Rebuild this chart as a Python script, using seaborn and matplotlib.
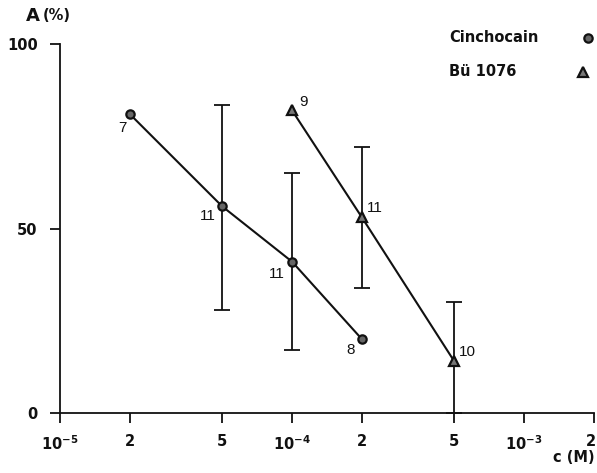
import numpy as np
import pandas as pd
import matplotlib
matplotlib.use("Agg")
import matplotlib.pyplot as plt
import matplotlib.transforms as mtransforms
from matplotlib.lines import Line2D
import seaborn as sns

# Concentration (M) vs. effect A (%), with number of experiments per point
conc_cinchocain = [2e-5, 5e-5, 1e-4, 2e-4]
effect_cinchocain = [81, 56, 41, 20]
n_cinchocain = [7, 11, 11, 8]
low_cinchocain = [np.nan, 28, 17, np.nan]
high_cinchocain = [np.nan, 83.5, 65, np.nan]

conc_bu = [1e-4, 2e-4, 5e-4]
effect_bu = [82, 53, 14]
n_bu = [9, 11, 10]
low_bu = [np.nan, 34, 0]
high_bu = [np.nan, 72, 30]

series_names = ["Cinchocain", "Bü 1076"]
xtick_values = [1e-5, 2e-5, 5e-5, 1e-4, 2e-4, 5e-4, 1e-3, 2e-3]
xtick_labels = [r"10$^{-5}$", "2", "5", r"10$^{-4}$", "2", "5", r"10$^{-3}$", "2"]
ytick_values = [0, 50, 100]

sns.set_style("ticks")
plt.rcParams["font.family"] = ["DejaVu Sans"]
plt.rcParams["mathtext.fontset"] = "custom"
plt.rcParams["mathtext.rm"] = "DejaVu Sans:bold"
plt.rcParams["mathtext.it"] = "DejaVu Sans:bold"
plt.rcParams["mathtext.default"] = "rm"

fig = plt.figure(figsize=(5.97, 4.73), dpi=100)
ax = fig.add_axes([60 / 597, 60 / 473, 534 / 597, 369 / 473])

df_c = pd.DataFrame({"c": conc_cinchocain, "A": effect_cinchocain})
df_b = pd.DataFrame({"c": conc_bu, "A": effect_bu})

ink = "#111111"
sns.lineplot(data=df_c, x="c", y="A", ax=ax, color=ink, lw=1.5,
             marker="o", markersize=6, markerfacecolor="#666666",
             markeredgecolor=ink, markeredgewidth=1.6, clip_on=False, zorder=4)
sns.lineplot(data=df_b, x="c", y="A", ax=ax, color=ink, lw=1.5,
             marker="^", markersize=7, markerfacecolor="#777777",
             markeredgecolor=ink, markeredgewidth=1.6, clip_on=False, zorder=4)


def draw_errors(conc, mean, low, high):
    conc = np.array(conc)
    mean = np.array(mean, float)
    low = np.array(low, float)
    high = np.array(high, float)
    ok = ~np.isnan(low)
    ax.errorbar(conc[ok], mean[ok], yerr=[mean[ok] - low[ok], high[ok] - mean[ok]],
                fmt="none", ecolor=ink, elinewidth=1.3, capsize=5.5,
                capthick=1.3, clip_on=False, zorder=3)


draw_errors(conc_cinchocain, effect_cinchocain, low_cinchocain, high_cinchocain)
draw_errors(conc_bu, effect_bu, low_bu, high_bu)

# sample sizes beside each point (offsets in pixels)
offsets_c = [(-7, -14), (-14, -10), (-15, -12), (-11, -11)]
offsets_b = [(11, 8), (13, 9), (13, 9)]
num_font = dict(fontsize=11, color=ink, family=["Liberation Sans", "DejaVu Sans"])
for x, y, n, (dx, dy) in zip(conc_cinchocain, effect_cinchocain, n_cinchocain, offsets_c):
    ax.annotate(str(n), (x, y), xytext=(dx, dy), textcoords="offset pixels",
                ha="center", va="center", **num_font)
for x, y, n, (dx, dy) in zip(conc_bu, effect_bu, n_bu, offsets_b):
    ax.annotate(str(n), (x, y), xytext=(dx, dy), textcoords="offset pixels",
                ha="center", va="center", **num_font)

ax.set_xscale("log")
ax.set_xlim(1e-5, 2e-3)
ax.set_ylim(0, 100)
ax.set_xticks(xtick_values)
ax.set_xticklabels(xtick_labels)
ax.xaxis.set_minor_locator(matplotlib.ticker.NullLocator())
ax.set_yticks(ytick_values)
ax.set_yticklabels([str(v) for v in ytick_values])
ax.tick_params(axis="both", length=7, width=1.3, color=ink, labelsize=10.5,
               labelcolor=ink)
ax.tick_params(axis="x", pad=8)
ax.tick_params(axis="y", pad=9)
for lab in ax.get_xticklabels() + ax.get_yticklabels():
    lab.set_fontweight("bold")

# keep the last tick label inside the figure edge
last = ax.get_xticklabels()[-1]
last.set_horizontalalignment("right")
last.set_transform(last.get_transform() + mtransforms.ScaledTranslation(2 / 100, 0, fig.dpi_scale_trans))

ax.set_xlabel("")
ax.set_ylabel("")

sns.despine(ax=ax)
ax.spines["left"].set_linewidth(1.3)
ax.spines["bottom"].set_linewidth(1.3)
ax.spines["left"].set_color(ink)
ax.spines["bottom"].set_color(ink)

# axis titles
fig.text(26 / 597, 1 - 16 / 473, "A", fontsize=13, fontweight="bold",
         va="center", ha="left", color=ink)
fig.text(43 / 597, 1 - 16 / 473, "(%)", fontsize=10.5, fontweight="bold",
         va="center", ha="left", color=ink)
fig.text(595 / 597, 1 - 457 / 473, "c (M)", fontsize=10.5, fontweight="bold",
         va="center", ha="right", color=ink)

# key
fig.text(449 / 597, 1 - 38 / 473, series_names[0], fontsize=10.5, fontweight="bold",
         va="center", ha="left", color=ink)
fig.text(449 / 597, 1 - 71 / 473, series_names[1], fontsize=10.5, fontweight="bold",
         va="center", ha="left", color=ink)
fig.add_artist(Line2D([588 / 597], [1 - 38 / 473], transform=fig.transFigure,
                      marker="o", markersize=6, markerfacecolor="#666666",
                      markeredgecolor=ink, markeredgewidth=1.6, linestyle="none"))
fig.add_artist(Line2D([583 / 597], [1 - 72 / 473], transform=fig.transFigure,
                      marker="^", markersize=7, markerfacecolor="#777777",
                      markeredgecolor=ink, markeredgewidth=1.6, linestyle="none"))

fig.savefig("out.png", dpi=100, facecolor="white")
